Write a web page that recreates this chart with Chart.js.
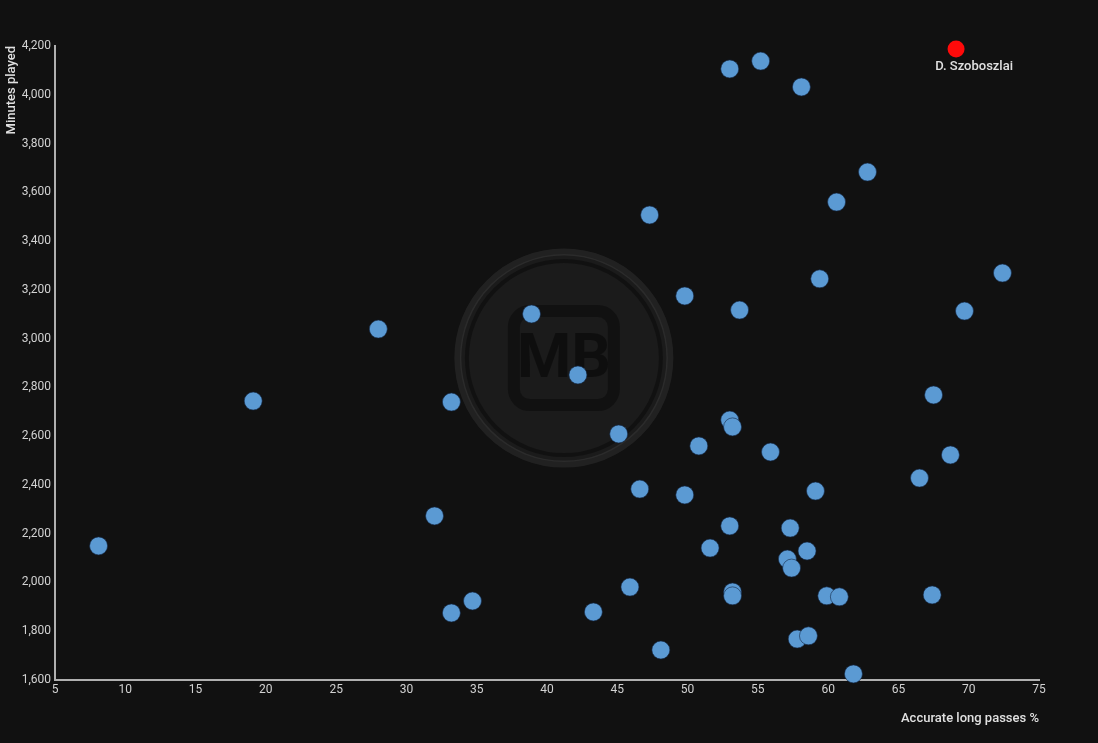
<!DOCTYPE html>
<html>
<head>
<meta charset="utf-8">
<script src="https://cdn.jsdelivr.net/npm/chart.js@4"></script>
<style>
  html, body { margin: 0; padding: 0; background: #111111; }
  #wrap { width: 1098px; height: 743px; }
</style>
</head>
<body>
<div id="wrap"><canvas id="graphPasses"></canvas></div>
<script>
// accurate long passes % (x) and minutes played (y)
const longPasses = [8.1, 19.1, 28.0, 32.0, 33.2, 33.2, 34.7, 38.9, 42.2, 43.3, 45.1, 45.9,
  46.6, 47.3, 48.1, 49.8, 49.8, 50.8, 51.6, 53.0, 53.0, 53.0, 53.2, 53.2, 53.2, 53.7,
  55.2, 55.9, 57.3, 57.1, 57.4, 57.8, 58.6, 58.5, 58.1, 59.1, 59.4, 59.9, 60.8, 60.6,
  61.8, 62.8, 66.5, 67.4, 67.5, 68.7, 69.7, 72.4];
const minutesPlayed = [2150, 2744, 3039, 2273, 2740, 1875, 1924, 3101, 2851, 1879, 2609, 1981,
  2383, 3507, 1723, 2359, 3175, 2560, 2141, 2232, 4106, 2666, 2638, 1961, 1945, 3117,
  4138, 2535, 2223, 2096, 2059, 1768, 1781, 2129, 4032, 2375, 3245, 1945, 1941, 3560,
  1625, 3683, 2428, 1949, 2769, 2523, 3113, 3269];

// highlighted player
const hlName = ['D. Szoboszlai'];
const hlPasses = [69.1];
const hlMinutes = [4188];

const xTicks = [5, 75, 5];       // min, max, step
const yTicks = [1600, 4200, 200];

const grey = '#d2d2d2';

// faint logo in the middle of the plot
const watermark = {
  id: 'watermark',
  beforeDatasetsDraw(chart) {
    const c = chart.ctx;
    const cx = chart.scales.x.getPixelForValue(41.2);
    const cy = chart.scales.y.getPixelForValue(2920);
    c.save();
    c.fillStyle = 'rgba(255,255,255,0.045)';
    c.beginPath(); c.arc(cx, cy, 104, 0, Math.PI * 2); c.fill();
    c.strokeStyle = 'rgba(255,255,255,0.07)';
    c.lineWidth = 7;
    c.beginPath(); c.arc(cx, cy, 106, 0, Math.PI * 2); c.stroke();
    c.strokeStyle = 'rgba(0,0,0,0.35)';
    c.lineWidth = 4;
    c.beginPath(); c.arc(cx, cy, 97, 0, Math.PI * 2); c.stroke();
    c.lineWidth = 12;
    c.beginPath();
    c.roundRect(cx - 50, cy - 47, 100, 94, 16);
    c.stroke();
    c.fillStyle = 'rgba(0,0,0,0.45)';
    c.font = 'bold 62px Roboto';
    c.textAlign = 'center';
    c.textBaseline = 'middle';
    c.fillText('MB', cx, cy + 3);
    c.restore();
  }
};

// name label under the red point
const nameLabel = {
  id: 'nameLabel',
  afterDatasetsDraw(chart) {
    const pt = chart.getDatasetMeta(1).data[0];
    const c = chart.ctx;
    c.save();
    c.fillStyle = '#e0e0e0';
    c.font = '500 13px Roboto';
    c.textAlign = 'center';
    c.textBaseline = 'top';
    c.fillText(hlName[0], pt.x + 18, pt.y + 11);
    c.restore();
  }
};

new Chart(document.getElementById('graphPasses'), {
  type: 'scatter',
  data: {
    datasets: [{
      data: longPasses.map((v, i) => ({ x: v, y: minutesPlayed[i] })),
      backgroundColor: '#5b9ad3',
      borderColor: 'rgba(20,40,70,0.6)',
      borderWidth: 1,
      pointRadius: 9,
      clip: false
    }, {
      data: hlPasses.map((v, i) => ({ x: v, y: hlMinutes[i] })),
      backgroundColor: '#ff0a0a',
      borderWidth: 0,
      pointRadius: 8.5,
      clip: false
    }]
  },
  options: {
    responsive: true,
    maintainAspectRatio: false,
    animation: false,
    events: [],
    layout: { padding: { left: 0, top: 46, right: 59, bottom: 0 } },
    scales: {
      x: {
        type: 'linear',
        min: xTicks[0],
        max: xTicks[1],
        afterFit: s => { s.height = 63; },
        grid: { display: false, drawTicks: false },
        border: { display: true, color: '#b0b0b0', width: 2 },
        ticks: { stepSize: xTicks[2], color: grey, padding: 3, font: { family: 'Roboto', size: 12 } },
        title: {
          display: true, text: 'Accurate long passes %', align: 'end', color: '#e0e0e0',
          font: { family: 'Roboto', size: 13, weight: '500' }, padding: { top: 0, bottom: 16 }
        }
      },
      y: {
        type: 'linear',
        min: yTicks[0],
        max: yTicks[1],
        afterFit: s => { s.width = 55; },
        grid: { display: false, drawTicks: false },
        border: { display: true, color: '#b0b0b0', width: 2 },
        ticks: {
          stepSize: yTicks[2], color: grey, padding: 4, font: { family: 'Roboto', size: 12 },
          callback: v => v.toLocaleString('en-US')
        },
        title: {
          display: true, text: 'Minutes played', align: 'end', color: '#e0e0e0',
          font: { family: 'Roboto', size: 13, weight: '500' }, padding: { top: 4, bottom: 0 }
        }
      }
    },
    plugins: {
      legend: { display: false },
      tooltip: { enabled: false }
    }
  },
  plugins: [watermark, nameLabel]
});
</script>
</body>
</html>
